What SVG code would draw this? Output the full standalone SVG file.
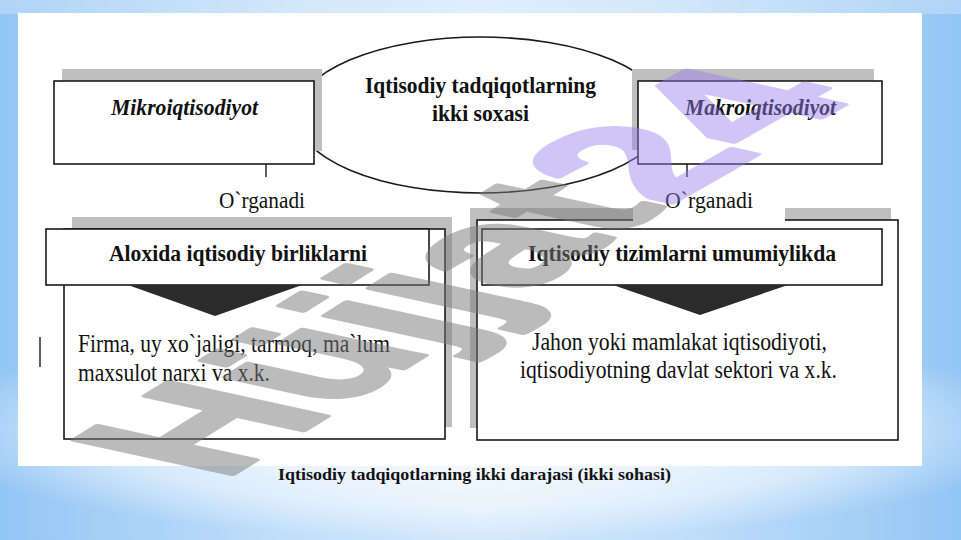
<svg xmlns="http://www.w3.org/2000/svg" width="961" height="540" viewBox="0 0 961 540" font-family="'Liberation Serif', 'Times New Roman', serif">
<defs>
<linearGradient id="bgH" x1="0" y1="0" x2="1" y2="0">
<stop offset="0" stop-color="#94c6f4"/>
<stop offset="0.3" stop-color="#c2dffa"/>
<stop offset="0.5" stop-color="#d4e9fb"/>
<stop offset="0.7" stop-color="#c2dffa"/>
<stop offset="1" stop-color="#94c6f4"/>
</linearGradient>
<radialGradient id="glow" cx="0.5" cy="0.5" r="0.5">
<stop offset="0" stop-color="#ffffff" stop-opacity="0.9"/>
<stop offset="0.7" stop-color="#ffffff" stop-opacity="0.5"/>
<stop offset="1" stop-color="#ffffff" stop-opacity="0"/>
</radialGradient>
<style>
.shadow{fill:#bfbfbf;}
.box{fill:#ffffff;stroke:#1a1a1a;stroke-width:1.6;}
.t{font-family:'Liberation Serif','Times New Roman',serif;fill:#111;}
.b{font-weight:bold;}
.i{font-style:italic;}
.tri{fill:#2b2b2b;}
.tick{stroke:#1a1a1a;stroke-width:1.4;}
.wm{font-family:'Liberation Sans',Arial,sans-serif;font-weight:bold;}
</style>
</defs>

<!-- slide background -->
<rect x="0" y="0" width="961" height="540" fill="url(#bgH)"/>
<ellipse cx="480" cy="430" rx="560" ry="110" fill="url(#glow)"/>
<rect x="0" y="0" width="961" height="14" fill="#ffffff" opacity="0.25"/>

<!-- white panel -->
<rect x="18" y="13" width="904" height="453" fill="#ffffff"/>

<!-- ellipse node -->
<g id="node-center">
<ellipse cx="481" cy="115" rx="185" ry="78" fill="#ffffff" stroke="#1a1a1a" stroke-width="1.6"/>
</g>

<!-- Mikroiqtisodiyot -->
<g id="node-mikro">
<rect class="shadow" x="62" y="69" width="260" height="82"/>
<rect class="box" x="54" y="81" width="260" height="83"/>
<text class="t b i" x="184.5" y="115" font-size="24" text-anchor="middle" textLength="147" lengthAdjust="spacingAndGlyphs">Mikroiqtisodiyot</text>
</g>

<!-- Makroiqtisodiyot -->
<g id="node-makro">
<rect class="shadow" x="632" y="69" width="242" height="81"/>
<rect class="box" x="638" y="81" width="244" height="83"/>
<text class="t b i" x="760.5" y="115" font-size="24" text-anchor="middle" textLength="151" lengthAdjust="spacingAndGlyphs">Makroiqtisodiyot</text>
</g>

<!-- center text over ellipse -->
<g id="node-center-text">
<text class="t b" x="480.5" y="93" font-size="23" text-anchor="middle" textLength="231" lengthAdjust="spacingAndGlyphs">Iqtisodiy tadqiqotlarning</text>
<text class="t b" x="480.5" y="121" font-size="23" text-anchor="middle" textLength="97" lengthAdjust="spacingAndGlyphs">ikki soxasi</text>
</g>

<!-- lower left -->
<g id="node-aloxida">
<rect class="shadow" x="72" y="217" width="380" height="210"/>
<rect class="box" x="64" y="229" width="381" height="210"/>
<rect class="box" x="46" y="229" width="383" height="56"/>
<text class="t b" x="238" y="261" font-size="24" text-anchor="middle" textLength="258" lengthAdjust="spacingAndGlyphs">Aloxida iqtisodiy birliklarni</text>
<text class="t" x="78" y="352" font-size="26" textLength="312" lengthAdjust="spacingAndGlyphs">Firma, uy xo`jaligi, tarmoq, ma`lum</text>
<text class="t" x="78" y="381" font-size="26" textLength="192" lengthAdjust="spacingAndGlyphs">maxsulot narxi va x.k.</text>
</g>

<!-- lower right -->
<g id="node-tizim">
<rect class="shadow" x="470" y="208" width="421" height="220"/>
<rect class="box" x="477" y="220" width="421" height="220"/>
<rect x="633" y="196" width="152" height="27" fill="#ffffff"/>
<rect class="box" x="482" y="229" width="400" height="56"/>
<text class="t b" x="682" y="261" font-size="24" text-anchor="middle" textLength="308" lengthAdjust="spacingAndGlyphs">Iqtisodiy tizimlarni umumiylikda</text>
<text class="t" x="679.5" y="350" font-size="26" text-anchor="middle" textLength="295" lengthAdjust="spacingAndGlyphs">Jahon yoki mamlakat iqtisodiyoti,</text>
<text class="t" x="678.5" y="378" font-size="26" text-anchor="middle" textLength="317" lengthAdjust="spacingAndGlyphs">iqtisodiyotning davlat sektori va x.k.</text>
</g>

<!-- connectors -->
<g id="connectors">
<line class="tick" x1="266" y1="164" x2="266" y2="177"/>
<line class="tick" x1="687" y1="164" x2="687" y2="177"/>
<text class="t" x="262" y="208" font-size="24" text-anchor="middle" textLength="86" lengthAdjust="spacingAndGlyphs">O`rganadi</text>
<text class="t" x="709" y="208" font-size="24" text-anchor="middle" textLength="88" lengthAdjust="spacingAndGlyphs">O`rganadi</text>
<polygon class="tri" points="128,285 302,285 215,316"/>
<polygon class="tri" points="613,285 788,285 700,315"/>
<line class="tick" x1="40" y1="337" x2="40" y2="367"/>
</g>

<!-- watermark -->
<g id="watermark">
<g opacity="0.5">
<text class="wm" font-size="100" fill="#7a7a7a" stroke="#7a7a7a" stroke-width="3" stroke-linejoin="round" transform="matrix(1.6,-0.99,2.3,0.5,222,481)">Hüjjat</text>
</g>
<g opacity="0.45">
<text class="wm" font-size="100" fill="#9a80f0" stroke="#9a80f0" stroke-width="3" stroke-linejoin="round" transform="matrix(1.75,-1.0,2.3,0.5,180.5,483.8)" x="277.8">24</text>
</g>
</g>

<!-- caption -->
<text class="t b" x="474.5" y="480" font-size="16" text-anchor="middle" textLength="393" lengthAdjust="spacingAndGlyphs">Iqtisodiy tadqiqotlarning ikki darajasi (ikki sohasi)</text>
</svg>
